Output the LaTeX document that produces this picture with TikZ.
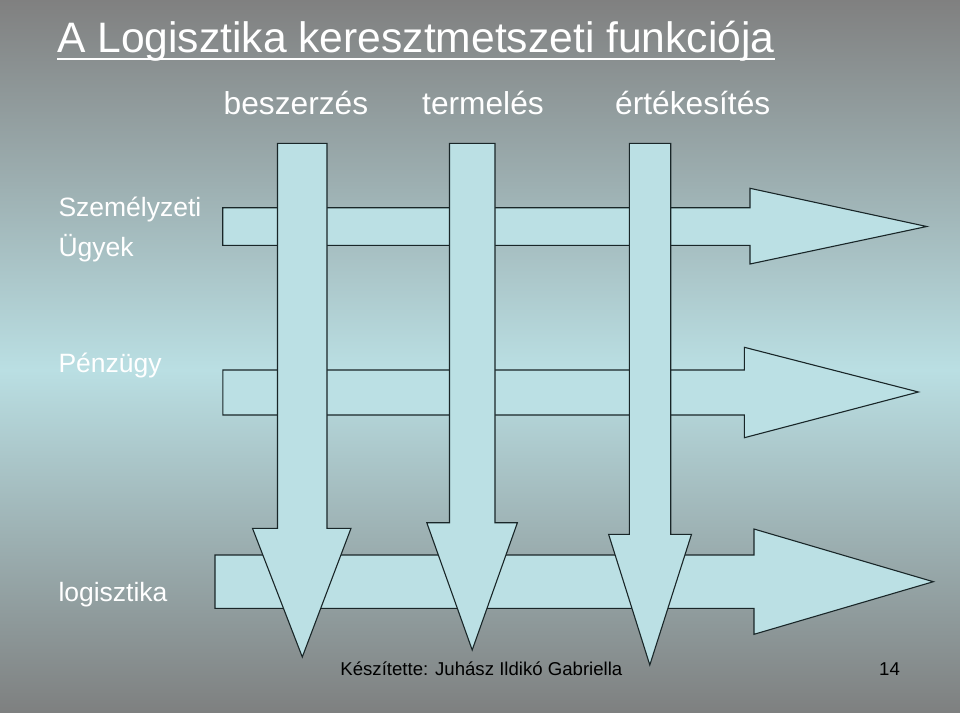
\documentclass[tikz,border=0pt]{standalone}
\usepackage{fontspec}
\setmainfont{Liberation Sans}
\definecolor{bgtop}{RGB}{128,128,128}
\definecolor{bgmid}{RGB}{186,223,227}
\definecolor{bgbot}{RGB}{126,128,128}
\definecolor{arrowfill}{RGB}{187,224,228}
\definecolor{arrowline}{RGB}{25,38,40}
\begin{document}
\begin{tikzpicture}[x=1pt,y=-1pt,
  blockarrow/.style={fill=arrowfill,draw=arrowline,line width=1.1pt,line join=miter},
  lbl/.style={inner sep=0pt,anchor=base west,text=white},
]
\useasboundingbox (0,0) rectangle (960,712);
\shade[top color=bgtop,bottom color=bgmid] (0,0) rectangle (960,370);
\shade[top color=bgmid,bottom color=bgbot] (0,369.5) rectangle (960,712);

% horizontal arrows (behind)
\draw[blockarrow] (222.7,207.7) -- (750,207.7) -- (750,188.3) -- (926.7,226.5) -- (750,264) -- (750,245.3) -- (222.7,245.3) -- cycle;
\draw[blockarrow] (222.8,370) -- (744.4,370) -- (744.4,347.3) -- (918.4,392) -- (744.4,437.7) -- (744.4,415) -- (222.8,415) -- cycle;
\draw[blockarrow] (215,555) -- (754,555) -- (754,529) -- (933.3,581.7) -- (754,634.3) -- (754,608.3) -- (215,608.3) -- cycle;

% vertical arrows (front)
\draw[blockarrow] (277.5,143.3) -- (327,143.3) -- (327,528.3) -- (351,528.3) -- (302.3,657) -- (252.5,528.3) -- (277.5,528.3) -- cycle;
\draw[blockarrow] (449.5,143.3) -- (495,143.3) -- (495,522.7) -- (517.4,522.7) -- (472.2,650) -- (426.8,522.7) -- (449.5,522.7) -- cycle;
\draw[blockarrow] (629.3,143.3) -- (670.7,143.3) -- (670.7,534.3) -- (691.5,534.3) -- (649.8,665) -- (608.6,534.3) -- (629.3,534.3) -- cycle;

% title
\node[lbl,font=\fontsize{42.6}{48}\selectfont] (title) at (57,52.7) {A Logisztika keresztmetszeti funkciója};
\draw[white,line width=2.2pt] ([yshift=-6.6pt]title.base west) -- ([yshift=-6.6pt]title.base east);

% column headers
\node[lbl,font=\fontsize{31.7}{36}\selectfont] (h1) at (223.5,114.3) {beszerzés};
\node[lbl,font=\fontsize{31.7}{36}\selectfont] (h2) at (422,114.3) {termelés};
\node[lbl,font=\fontsize{31.7}{36}\selectfont] (h3) at (615,114.3) {értékesítés};

% row labels
\node[lbl,font=\fontsize{26.5}{30}\selectfont] (r1a) at (58.3,216.7) {Személyzeti};
\node[lbl,font=\fontsize{26.5}{30}\selectfont] (r1b) at (58.3,256) {Ügyek};
\node[lbl,font=\fontsize{26.5}{30}\selectfont] (r2) at (58.3,372.5) {Pénzügy};
\node[lbl,font=\fontsize{26.5}{30}\selectfont] (r3) at (58.3,601.7) {logisztika};

% footer
\node[lbl,text=black,font=\fontsize{18.6}{22}\selectfont] (foot) at (340.2,675) {Készítette: Juhász Ildikó Gabriella};
\node[lbl,text=black,font=\fontsize{18.6}{22}\selectfont] (page) at (879,675) {14};
\end{tikzpicture}
\end{document}
